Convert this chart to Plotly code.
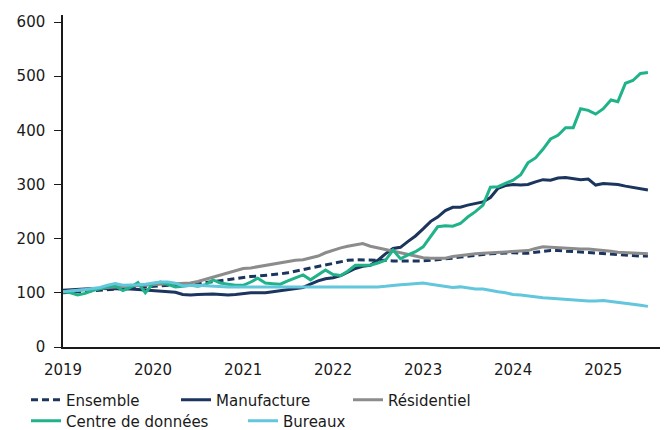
import plotly.graph_objects as go
import pandas as pd

months = pd.date_range("2019-01-01", periods=79, freq="MS")

ensemble = [100, 101, 102, 103, 104, 105, 106, 108, 109, 110, 111, 112,
            113, 114, 115, 116, 116, 117, 117, 119, 121, 123, 125, 127,
            129, 130, 131, 132, 133, 135, 137, 140, 143, 146, 149, 152,
            155, 158, 160, 161, 161, 161, 160, 160, 159, 159, 158, 158,
            159, 160, 161, 162, 164, 166, 168, 170, 171, 172, 173, 174,
            174, 173, 173, 175, 177, 178, 178, 177, 176, 175, 174, 174,
            173, 172, 171, 170, 169, 168, 168]

manufacture = [105, 106, 107, 108, 108, 108, 108, 108, 107, 107, 106, 105,
               105, 104, 103, 101, 97, 96, 97, 98, 98, 97, 96, 97,
               99, 100, 100, 100, 102, 104, 106, 108, 110, 116, 122, 126,
               128, 132, 138, 145, 149, 151, 160, 172, 182, 184, 195, 205,
               218, 232, 240, 252, 258, 258, 262, 265, 268, 276, 293, 298,
               300, 299, 300, 305, 309, 308, 312, 313, 311, 309, 310, 299,
               302, 301, 300, 297, 295, 293, 290]

residentiel = [102, 103, 104, 105, 107, 108, 110, 111, 112, 113, 114, 115,
               116, 117, 117, 117, 117, 118, 121, 125, 130, 134, 138, 142,
               145, 146, 148, 151, 153, 156, 158, 160, 161, 164, 168, 174,
               179, 183, 186, 189, 191, 186, 183, 180, 177, 174, 170, 167,
               165, 164, 164, 164, 167, 169, 171, 172, 173, 174, 174, 175,
               176, 178, 178, 182, 185, 184, 183, 182, 182, 181, 181, 180,
               178, 177, 175, 174, 173, 173, 172]

centre_donnees = [102, 100, 96, 99, 104, 108, 111, 113, 104, 110, 119, 100,
                  117, 120, 116, 111, 112, 114, 112, 115, 124, 118, 116, 114,
                  114, 120, 127, 118, 117, 116, 122, 128, 133, 124, 134, 142,
                  134, 132, 140, 151, 151, 151, 155, 160, 179, 163, 170, 176,
                  185, 205, 222, 224, 223, 228, 240, 250, 262, 295, 296, 302,
                  308, 318, 340, 349, 365, 384, 391, 405, 405, 440, 437, 430,
                  440, 456, 453, 487, 492, 505, 507]

bureaux = [102, 104, 105, 106, 108, 110, 114, 117, 114, 114, 115, 116,
           118, 120, 120, 118, 113, 114, 114, 113, 112, 112, 111, 111,
           111, 111, 110, 110, 110, 110, 110, 110, 110, 110, 110, 110,
           110, 110, 110, 110, 110, 110, 111, 112, 114, 115, 116, 117,
           118, 116, 114, 112, 110, 111, 109, 107, 107, 104, 102, 100,
           97, 96, 94, 92, 91, 90, 89, 88, 86, 85, 85, 85,
           86, 84, 82, 80, 79, 77, 75]

y_ticks = [0, 100, 200, 300, 400, 500, 600]
x_tick_labels = ["2019", "2020", "2021", "2022", "2023", "2024", "2025"]

NAVY = "#1c355e"
GREY = "#8c8c8c"
GREEN = "#20b38a"
LIGHT = "#62c6dc"

FONT = "DejaVu Sans"
TXT = "#1a1a1a"

fig = go.Figure()
series = [
    ("Ensemble", ensemble, NAVY, "7px,4px", "legend"),
    ("Manufacture", manufacture, NAVY, "solid", "legend2"),
    ("Résidentiel", residentiel, GREY, "solid", "legend3"),
    ("Centre de données", centre_donnees, GREEN, "solid", "legend4"),
    ("Bureaux", bureaux, LIGHT, "solid", "legend5"),
]
for name, vals, col, dash, lg in series:
    fig.add_trace(go.Scatter(x=months, y=vals, name=name, mode="lines",
                             line=dict(color=col, width=3, dash=dash),
                             legend=lg, showlegend=True))

W, H = 669, 430
def leg(xpx, ypx):
    return dict(xref="container", yref="container", x=xpx / W, y=1 - ypx / H,
                xanchor="left", yanchor="middle", orientation="h",
                bgcolor="rgba(0,0,0,0)", borderwidth=0,
                font=dict(family=FONT, size=15, color=TXT))

fig.update_layout(
    width=W, height=H,
    showlegend=True,
    margin=dict(l=63, r=9, t=15, b=83, autoexpand=False),
    plot_bgcolor="white", paper_bgcolor="white",
    font=dict(family=FONT, size=15, color=TXT),
    xaxis=dict(
        type="date",
        range=["2019-01-01", "2025-08-19"],
        tickvals=[f"{y}-01-01" for y in x_tick_labels],
        ticktext=x_tick_labels,
        showline=True, linecolor="#1a1a1a", linewidth=1.5,
        ticks="", showgrid=False, zeroline=False,
        ticklabelstandoff=8, automargin=False,
        tickfont=dict(family=FONT, size=15, color=TXT),
    ),
    yaxis=dict(
        range=[0, 613],
        tickvals=y_ticks,
        showline=True, linecolor="#1a1a1a", linewidth=1.5,
        ticks="outside", ticklen=7, tickcolor="#1a1a1a", tickwidth=1,
        ticklabelstandoff=6, automargin=False,
        showgrid=False, zeroline=False,
        tickfont=dict(family=FONT, size=15, color=TXT),
    ),
    legend=leg(26, 400),
    legend2=leg(176, 400),
    legend3=leg(348, 400),
    legend4=leg(26, 421),
    legend5=leg(243, 421),
)

fig.write_html("out.html", config={"displayModeBar": False},
               post_script="document.body.style.margin='0';")
